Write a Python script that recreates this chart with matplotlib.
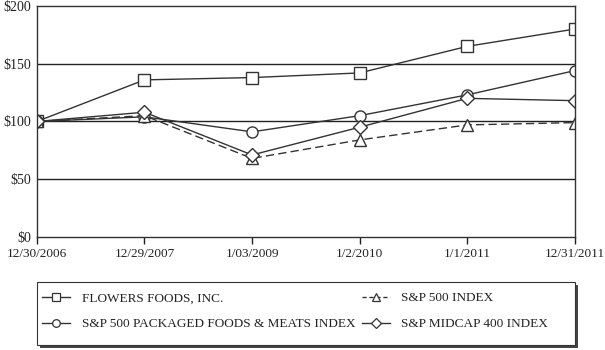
import matplotlib.pyplot as plt
from matplotlib.patches import Rectangle
from matplotlib.lines import Line2D

dates = ['12/30/2006', '12/29/2007', '1/03/2009', '1/2/2010', '1/1/2011', '12/31/2011']
flowers = [100, 136, 138, 142, 165, 180]
packaged = [100, 104, 91, 105, 123, 144]
sp500 = [100, 105, 68, 84, 97, 99]
midcap = [100, 108, 71, 95, 120, 118]
labels = ['FLOWERS FOODS, INC.', 'S&P 500 PACKAGED FOODS & MEATS INDEX',
          'S&P 500 INDEX', 'S&P MIDCAP 400 INDEX']

plt.rcParams['font.family'] = ['Liberation Serif', 'DejaVu Serif']

fig = plt.figure(figsize=(6.05, 3.5), dpi=100)
ax = fig.add_axes([0.061, 0.323, 0.889, 0.660])

x = range(len(dates))
col = '#333333'
common = dict(color=col, lw=1.0, markersize=8, markerfacecolor='white',
              markeredgecolor=col, markeredgewidth=1.0)
ax.plot(x, flowers, marker='s', **common)
ax.plot(x, packaged, marker='o', **common)
ax.plot(x, sp500, marker='^', ls=(0, (6, 3)), **common)
ax.plot(x, midcap, marker='D', **{**common, 'markersize': 7})

ax.set_xlim(0, len(dates) - 1)
ax.set_ylim(0, 200)
ax.set_yticks([0, 50, 100, 150, 200])
ax.set_yticklabels(['$0', '$50', '$100', '$150', '$200'])
ax.set_xticks(list(x))
ax.set_xticklabels(dates)
for y in [50, 100, 150]:
    ax.axhline(y, color='#222222', lw=1.0, zorder=0)
for s in ax.spines.values():
    s.set_color('#333333')
    s.set_linewidth(1.0)
ax.tick_params(axis='y', length=0, pad=4, labelsize=10, colors='#222222')
ax.tick_params(axis='x', direction='out', length=5, width=1, pad=3,
               labelsize=9.5, colors='#222222')

# legend box with drop shadow
W, H = 605, 350
box = (37 / W, 1 - 345 / H, 538 / W, 63 / H)
fig.patches.append(Rectangle((box[0] + 3 / W, box[1] - 3 / H), box[2], box[3],
                             transform=fig.transFigure, facecolor='#444444',
                             edgecolor='none', zorder=1))
fig.patches.append(Rectangle(box[:2], box[2], box[3], transform=fig.transFigure,
                             facecolor='white', edgecolor='#333333', lw=0.8, zorder=2))

lh = dict(color=col, lw=1.0, markersize=5.5, markerfacecolor='white',
          markeredgecolor=col, markeredgewidth=0.9)
handles = [Line2D([], [], marker='s', **lh),
           Line2D([], [], marker='o', **lh),
           Line2D([], [], marker='^', ls=(0, (3, 2)), **lh),
           Line2D([], [], marker='D', **{**lh, 'markersize': 5})]
leg = fig.legend(handles=handles, labels=labels, ncol=2, loc='upper left',
                 bbox_to_anchor=(42 / W, 1 - 292 / H), frameon=False,
                 fontsize=9.5, handlelength=2.1, handletextpad=0.9,
                 borderpad=0, borderaxespad=0, labelspacing=1.05, columnspacing=0.5)
for t in leg.get_texts():
    t.set_color('#222222')
leg.set_zorder(3)

fig.savefig('out.png', dpi=100)
